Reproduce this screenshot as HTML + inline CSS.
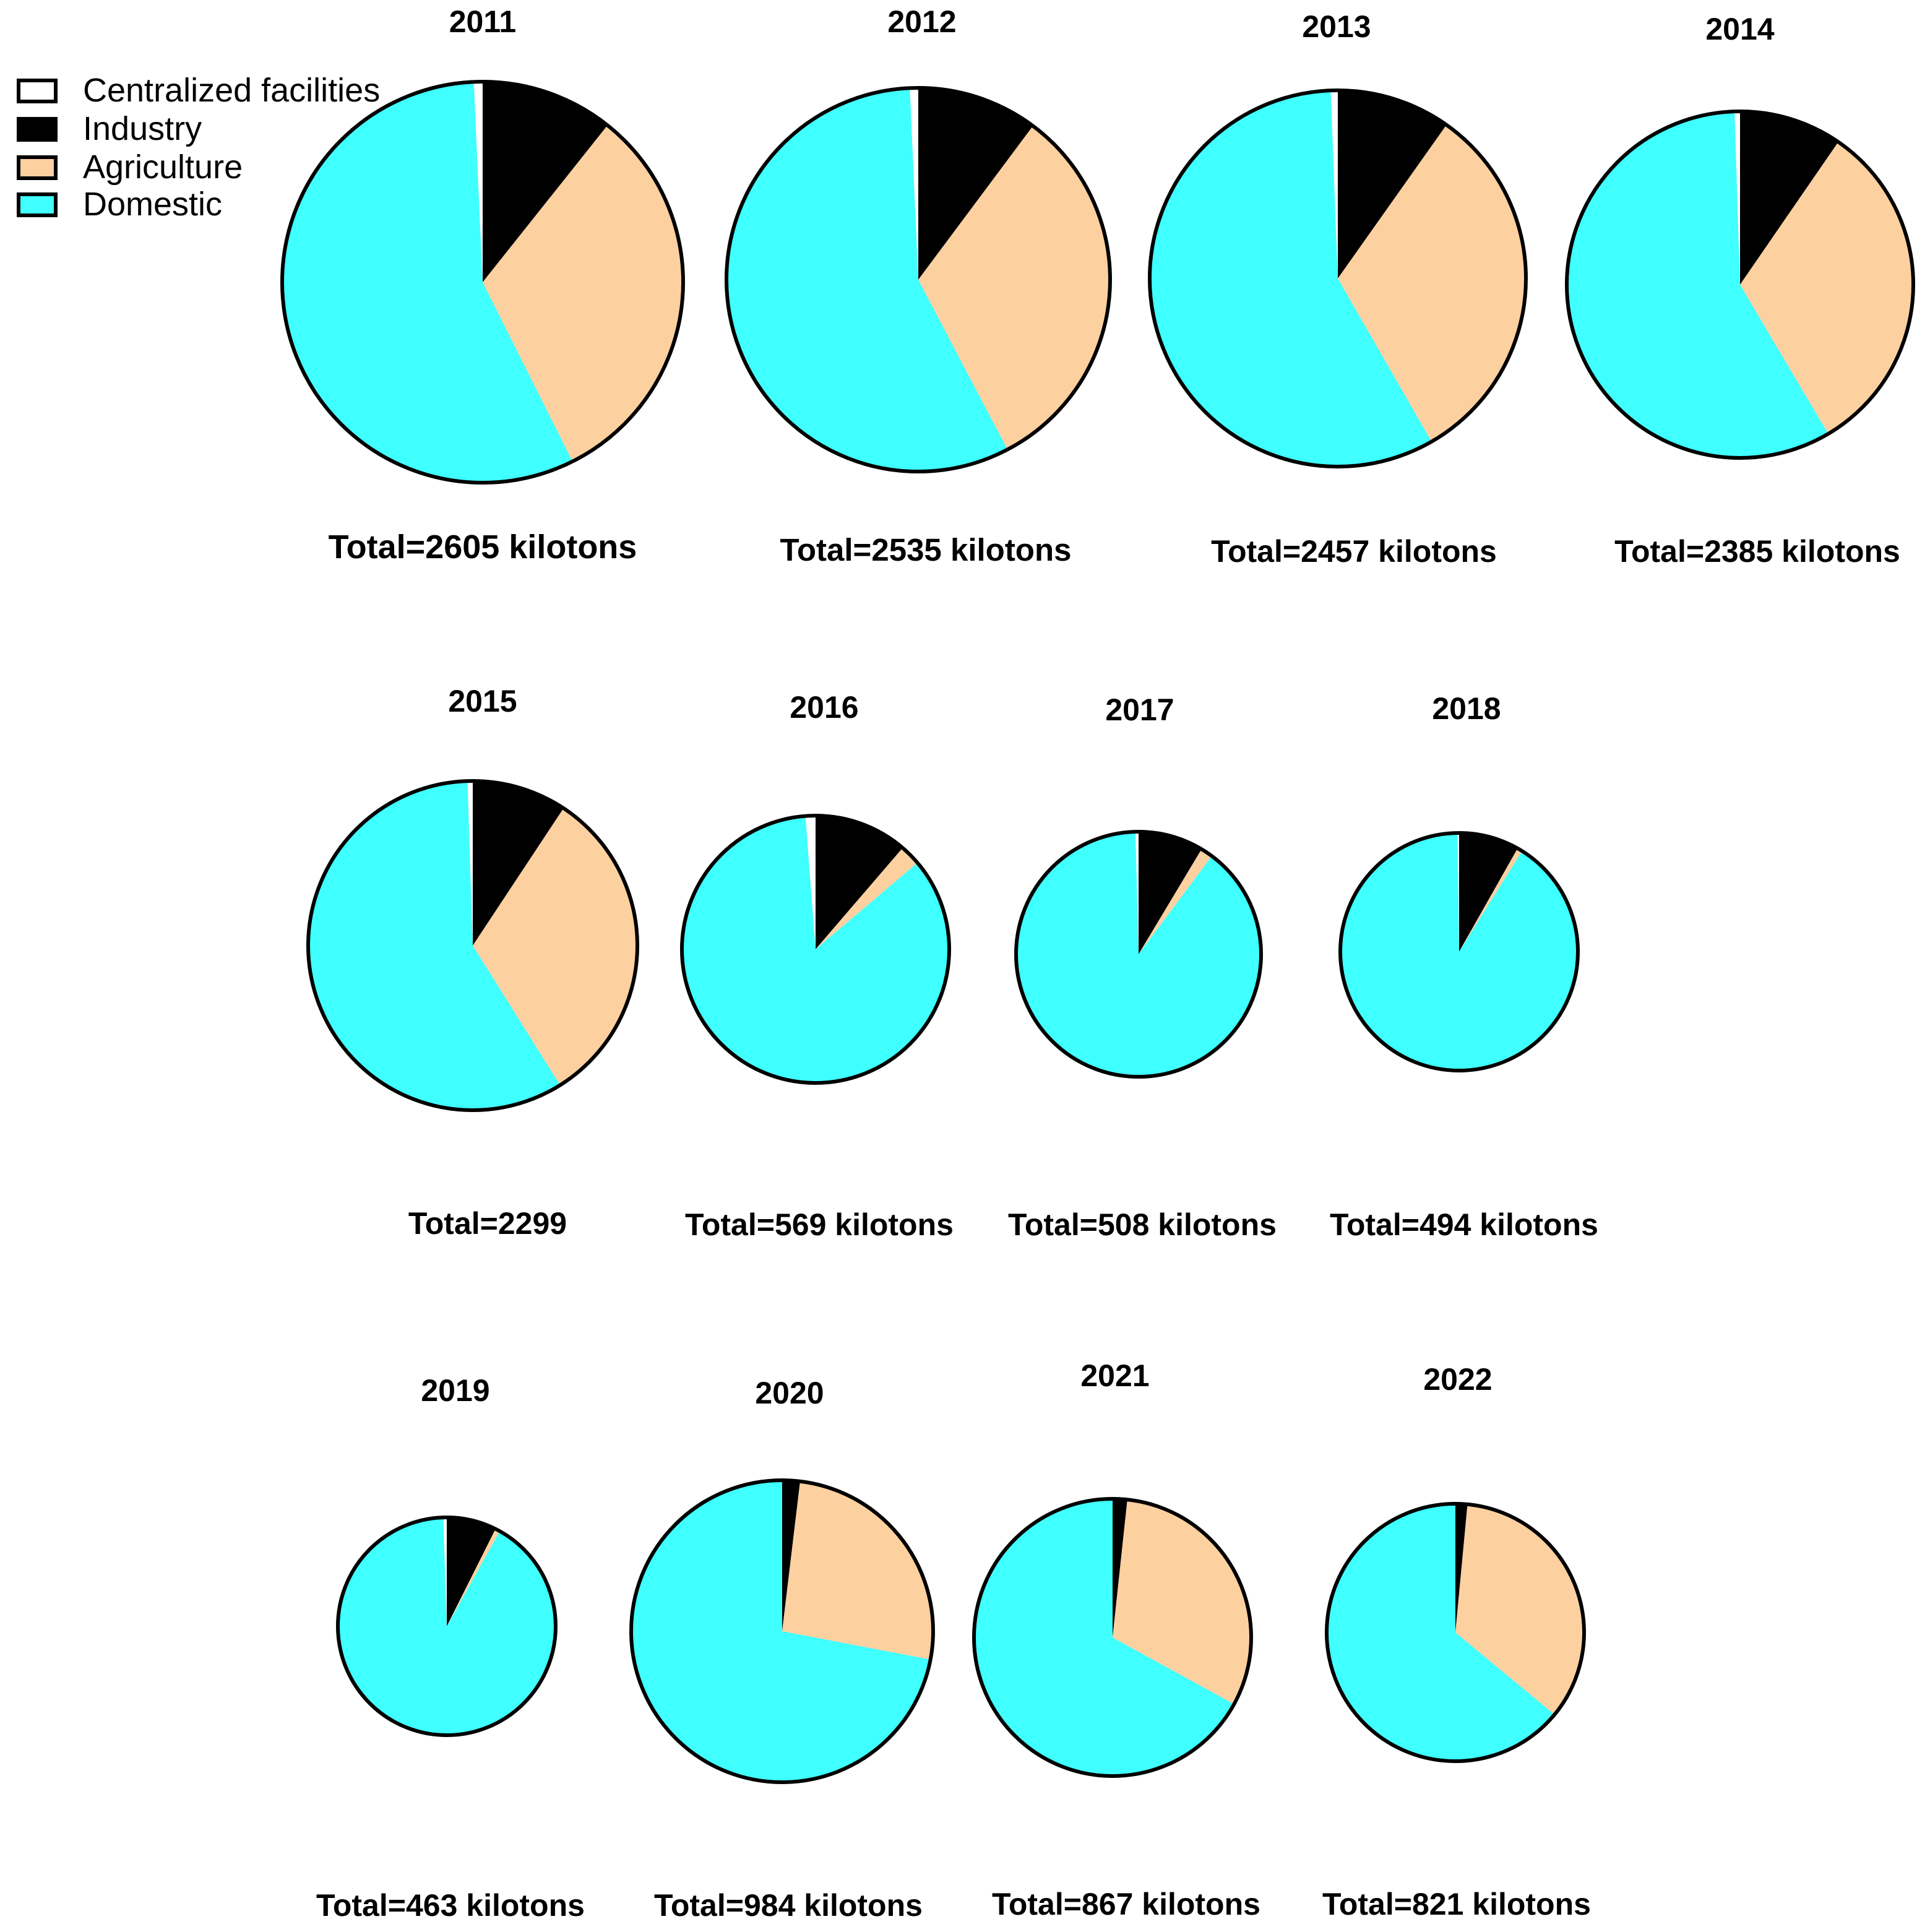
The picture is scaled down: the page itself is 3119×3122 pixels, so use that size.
<!DOCTYPE html>
<html><head><meta charset="utf-8"><style>
html,body{margin:0;padding:0;background:#fff}
svg{display:block}
text{font-family:"Liberation Sans",Arial,sans-serif}
</style></head><body>
<svg id="chart" width="3119" height="3122" viewBox="0 0 1559.5 1561">
<g>
 <g><rect x="15" y="65" width="30" height="17" fill="#fff" stroke="#000" stroke-width="3"/><text x="67" y="82" font-size="27">Centralized facilities</text></g>
 <g><rect x="15" y="96" width="30" height="17" fill="#000" stroke="#000" stroke-width="3"/><text x="67" y="113" font-size="27">Industry</text></g>
 <g><rect x="15" y="127" width="30" height="17" fill="#fdd0a0" stroke="#000" stroke-width="3"/><text x="67" y="144" font-size="27">Agriculture</text></g>
 <g><rect x="15" y="157" width="30" height="17" fill="#40ffff" stroke="#000" stroke-width="3"/><text x="67" y="174" font-size="27">Domestic</text></g>
</g>
<g id="pies"></g>
</svg>
<script>
const years=["2011","2012","2013","2014","2015","2016","2017","2018","2019","2020","2021","2022"];
const totals=[2605,2535,2457,2385,2299,569,508,494,463,984,867,821];
const totalLabels=["Total=2605 kilotons","Total=2535 kilotons","Total=2457 kilotons","Total=2385 kilotons","Total=2299","Total=569 kilotons","Total=508 kilotons","Total=494 kilotons","Total=463 kilotons","Total=984 kilotons","Total=867 kilotons","Total=821 kilotons"];
const industry=[10.7,10.2,9.8,9.6,9.3,11.3,8.6,8.2,7.4,1.9,1.7,1.5];
const agriculture=[31.9,32.1,31.9,31.9,31.8,2.5,1.6,0.7,0.7,26.1,31.3,34.5];
const domestic=[56.7,57.0,57.7,58.0,58.4,85.0,89.4,90.9,91.4,72.0,67.0,64.0];
const centralized=[0.7,0.7,0.6,0.5,0.5,1.2,0.4,0.2,0.5,0.0,0.0,0.0];
// layout (pixel positions, not data)
const cx=[390,742,1081,1406,382,659,920,1179,361,632,899,1176];
const cy=[228,226,225,230,764,767,771,769,1314,1318,1323,1319];
const rr=[162,155,152,140,133,108,99,96,88,122,112,104];
const titleY=[26,26,30,32,575,580,582,581,1132,1134,1120,1123];
const titleX=[390,745,1080,1406,390,666,921,1185,368,638,901,1178];
const totX=[390,748,1094,1420,394,662,923,1183,364,637,910,1177];
const totY=[451,453,454,454,997,998,998,998,1548,1548,1547,1547];
const totFont=[27,25.5,25,25,25,25,25,25,25,25,25,25];
const colors=["#000000","#fdd0a0","#40ffff","#ffffff"];
const names=["industry","agriculture","domestic","centralized"];
const NS="http://www.w3.org/2000/svg";
const g=document.getElementById("pies");
function pt(x,y,r,f){const a=f*2*Math.PI;return [x+r*Math.sin(a),y-r*Math.cos(a)];}
years.forEach((yr,i)=>{
  const grp=document.createElementNS(NS,"g");
  
  
  const vals=[industry[i],agriculture[i],domestic[i],centralized[i]];
  const sum=vals.reduce((a,b)=>a+b,0);
  let acc=0;
  vals.forEach((v,k)=>{
    if(v<=0)return;
    const f0=acc/sum,f1=(acc+v)/sum;acc+=v;
    const p0=pt(cx[i],cy[i],rr[i],f0),p1=pt(cx[i],cy[i],rr[i],f1);
    const large=(f1-f0)>0.5?1:0;
    const p=document.createElementNS(NS,"path");
    p.setAttribute("d",`M${cx[i]},${cy[i]} L${p0[0]},${p0[1]} A${rr[i]},${rr[i]} 0 ${large} 1 ${p1[0]},${p1[1]} Z`);
    p.setAttribute("fill",colors[k]);
    
    
    grp.appendChild(p);
  });
  const c=document.createElementNS(NS,"circle");
  c.setAttribute("cx",cx[i]);c.setAttribute("cy",cy[i]);c.setAttribute("r",rr[i]);
  c.setAttribute("fill","none");c.setAttribute("stroke","#000");c.setAttribute("stroke-width","3");
  
  
  grp.appendChild(c);
  const t=document.createElementNS(NS,"text");
  t.setAttribute("x",titleX[i]);t.setAttribute("y",titleY[i]);t.setAttribute("text-anchor","middle");
  t.setAttribute("font-size","25");t.setAttribute("font-weight","bold");t.textContent=yr;
  
  
  grp.appendChild(t);
  const tt=document.createElementNS(NS,"text");
  tt.setAttribute("x",totX[i]);tt.setAttribute("y",totY[i]);tt.setAttribute("text-anchor","middle");
  tt.setAttribute("font-size",totFont[i]);tt.setAttribute("font-weight","bold");tt.textContent=totalLabels[i];
  
  
  grp.appendChild(tt);
  g.appendChild(grp);
});
</script>
</body></html>
